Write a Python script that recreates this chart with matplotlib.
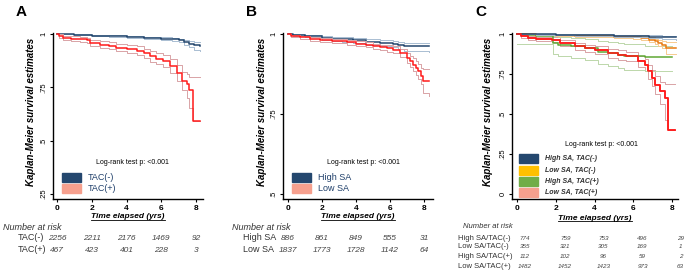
import matplotlib
matplotlib.use("Agg")
import matplotlib.pyplot as plt
import matplotlib.transforms as mtrans
from matplotlib.patches import Rectangle
from matplotlib.lines import Line2D

plt.rcParams["font.family"] = ["Liberation Sans", "DejaVu Sans"]

W, H = 685, 273

NAVY = "#24476E"
NAVY_CI = "#A9BDD2"
RED = "#FF1A1A"
RED_CI = "#D9A3A6"
ORANGE = "#E8790F"
ORANGE_CI = "#F8CB8F"
GREEN = "#5FA834"
GREEN_CI = "#BCD7AA"
SALMON = "#F6A08E"
YELLOW = "#FFC000"
LEG_GREEN = "#70AD47"

# ---- panel A: TAC(-) vs TAC(+)
a_neg_t = [0, 1, 2, 3, 4, 5, 6, 6.6, 7.0, 7.3, 7.6, 7.9, 8.2]
a_neg_s = [1.0, 0.996, 0.992, 0.989, 0.986, 0.982, 0.978, 0.975, 0.970, 0.961, 0.953, 0.946, 0.943]
a_neg_hi = [1.0, 0.998, 0.995, 0.993, 0.990, 0.987, 0.984, 0.982, 0.978, 0.971, 0.966, 0.962, 0.961]
a_neg_lo = [1.0, 0.993, 0.989, 0.985, 0.981, 0.977, 0.972, 0.968, 0.961, 0.950, 0.938, 0.926, 0.918]

a_pos_t = [0, 0.1, 0.36, 0.8, 1.3, 1.7, 1.9, 2.5, 3.0, 3.4, 4.0, 4.6, 5.0, 5.35, 5.7,
           6.1, 6.5, 6.9, 7.2, 7.47, 7.62, 7.85, 8.2]
a_pos_s = [1.0, 0.99, 0.98, 0.977, 0.974, 0.970, 0.957, 0.950, 0.944, 0.936, 0.929, 0.921,
           0.908, 0.895, 0.884, 0.872, 0.849, 0.818, 0.78, 0.764, 0.736, 0.591, 0.591]
a_pos_hi = [1.0, 0.997, 0.99, 0.988, 0.985, 0.982, 0.972, 0.966, 0.961, 0.954, 0.948, 0.941,
            0.930, 0.919, 0.909, 0.899, 0.880, 0.853, 0.823, 0.812, 0.800, 0.798, 0.798]
a_pos_lo = [1.0, 0.982, 0.969, 0.965, 0.962, 0.957, 0.942, 0.934, 0.927, 0.918, 0.910, 0.900,
            0.886, 0.870, 0.858, 0.843, 0.816, 0.78, 0.735, 0.70, 0.655, 0.591, 0.591]

a_groups = ["TAC(-)", "TAC(+)"]
a_risk = [[2256, 2211, 2176, 1469, 92], [467, 423, 401, 228, 3]]

# ---- panel B: High SA vs Low SA
b_high_t = [0, 0.3, 1.0, 1.8, 2.0, 2.6, 3.2, 3.85, 4.6, 5.4, 6.2, 6.5, 6.8, 8.3]
b_high_s = [1.0, 0.997, 0.995, 0.994, 0.987, 0.985, 0.983, 0.981, 0.976, 0.973, 0.970, 0.966, 0.962, 0.961]
b_high_hi = [1.0, 0.999, 0.998, 0.998, 0.993, 0.991, 0.989, 0.988, 0.984, 0.981, 0.979, 0.976, 0.973, 0.971]
b_high_lo = [1.0, 0.994, 0.991, 0.989, 0.981, 0.978, 0.976, 0.973, 0.967, 0.963, 0.959, 0.954, 0.948, 0.943]

b_low_t = [0, 0.2, 0.7, 1.3, 1.9, 2.6, 3.45, 4.0, 4.6, 5.0, 5.4, 5.8, 6.2, 6.6, 7.0,
           7.2, 7.37, 7.55, 7.67, 7.8, 7.96, 8.3]
b_low_s = [1.0, 0.995, 0.989, 0.985, 0.981, 0.978, 0.974, 0.970, 0.966, 0.962, 0.958, 0.955,
           0.951, 0.940, 0.925, 0.915, 0.904, 0.894, 0.884, 0.868, 0.853, 0.853]
b_low_hi = [1.0, 0.998, 0.993, 0.990, 0.986, 0.984, 0.980, 0.977, 0.974, 0.970, 0.967, 0.964,
            0.961, 0.952, 0.940, 0.932, 0.924, 0.915, 0.907, 0.895, 0.891, 0.891]
b_low_lo = [1.0, 0.992, 0.984, 0.979, 0.975, 0.971, 0.967, 0.963, 0.958, 0.953, 0.949, 0.945,
            0.940, 0.928, 0.909, 0.897, 0.884, 0.872, 0.860, 0.843, 0.815, 0.807]

b_groups = ["High SA", "Low SA"]
b_risk = [[886, 861, 849, 555, 31], [1837, 1773, 1728, 1142, 64]]

# ---- panel C: four groups
c_hn_t = [0, 1, 2, 3, 4, 5, 6, 6.8, 7.5, 8.2]
c_hn_s = [1.0, 0.998, 0.996, 0.994, 0.992, 0.990, 0.987, 0.984, 0.980, 0.979]
c_hn_hi = [1.0, 1.0, 0.999, 0.998, 0.997, 0.996, 0.994, 0.992, 0.990, 0.989]
c_hn_lo = [1.0, 0.995, 0.992, 0.989, 0.986, 0.983, 0.979, 0.975, 0.966, 0.962]

c_ln_t = [0, 1, 2, 3, 4, 5, 6, 6.4, 6.8, 7.1, 7.3, 7.5, 7.7, 8.2]
c_ln_s = [1.0, 0.996, 0.993, 0.990, 0.987, 0.984, 0.980, 0.975, 0.965, 0.954, 0.944, 0.933, 0.9125, 0.9125]
c_ln_hi = [1.0, 0.999, 0.997, 0.995, 0.993, 0.991, 0.988, 0.985, 0.978, 0.970, 0.963, 0.957, 0.948, 0.948]
c_ln_lo = [1.0, 0.992, 0.988, 0.984, 0.980, 0.976, 0.971, 0.964, 0.951, 0.937, 0.924, 0.91, 0.875, 0.875]

c_hp_t = [0, 0.5, 1.0, 1.7, 1.86, 2.1, 2.8, 3.5, 4.2, 4.7, 5.2, 5.5, 6.6, 8.0]
c_hp_s = [1.0, 0.995, 0.99, 0.99, 0.944, 0.933, 0.925, 0.9125, 0.89, 0.88, 0.871, 0.86, 0.856, 0.856]
c_hp_hi = [1.0, 1.0, 0.999, 0.999, 0.985, 0.98, 0.975, 0.967, 0.955, 0.948, 0.942, 0.935, 0.925, 0.925]
c_hp_lo = [0.94, 0.94, 0.935, 0.935, 0.875, 0.862, 0.85, 0.835, 0.81, 0.80, 0.79, 0.775, 0.767, 0.767]

c_lp_t = [0, 0.2, 0.57, 1.0, 1.8, 2.2, 3.0, 3.5, 4.0, 4.7, 5.2, 5.6, 6.26, 6.6, 6.78,
          6.95, 7.12, 7.38, 7.64, 7.78, 8.15]
c_lp_s = [1.0, 0.985, 0.975, 0.970, 0.965, 0.945, 0.923, 0.912, 0.902, 0.881, 0.870, 0.86,
          0.829, 0.808, 0.767, 0.725, 0.683, 0.642, 0.60, 0.40, 0.40]
c_lp_hi = [1.0, 0.993, 0.986, 0.982, 0.978, 0.962, 0.944, 0.934, 0.926, 0.908, 0.898, 0.889,
           0.862, 0.843, 0.809, 0.772, 0.736, 0.702, 0.69, 0.687, 0.687]
c_lp_lo = [1.0, 0.975, 0.962, 0.956, 0.950, 0.926, 0.90, 0.888, 0.876, 0.852, 0.840, 0.829,
           0.793, 0.770, 0.72, 0.672, 0.625, 0.56, 0.46, 0.40, 0.40]

c_groups = ["High SA/TAC(-)", "Low SA/TAC(-)", "High SA/TAC(+)", "Low SA/TAC(+)"]
c_legend = ["High SA, TAC(-)", "Low SA, TAC(-)", "High SA, TAC(+)", "Low SA, TAC(+)"]
c_risk = [[774, 759, 753, 496, 29], [355, 321, 305, 169, 1],
          [112, 102, 96, 59, 2], [1482, 1452, 1423, 973, 63]]

x_ticks = [0, 2, 4, 6, 8]


def fx(x):
    return x / W


def fy(y):
    return 1 - y / H


def make_axes(fig, left, right, top, bottom):
    return fig.add_axes([fx(left), fy(bottom), (right - left) / W, (bottom - top) / H])


def km(ax, t, s, lo, hi, color, ci_color, lw=1.1):
    ax.step(t, hi, where="post", color=ci_color, lw=0.7)
    ax.step(t, lo, where="post", color=ci_color, lw=0.7)
    return ax.step(t, s, where="post", color=color, lw=lw)


def style(ax, xlim, ylim, yticks, ylabels):
    ax.set_xlim(*xlim)
    ax.set_ylim(*ylim)
    for side in ("top", "right"):
        ax.spines[side].set_visible(False)
    for side in ("left", "bottom"):
        ax.spines[side].set_linewidth(1.0)
    ax.set_xticks(x_ticks)
    ax.set_xticklabels([str(v) for v in x_ticks], fontsize=6, fontweight="bold")
    ax.set_yticks(yticks)
    ax.set_yticklabels(ylabels, fontsize=5.5, rotation=90, va="center")
    ax.tick_params(axis="both", length=2.5, width=0.8, pad=1.5)


xlabels = []


def xlabel(fig, ax, y):
    pos = ax.get_position()
    t = fig.text((pos.x0 + pos.x1) / 2, fy(y), "Time elapsed (yrs)", fontsize=6,
                 fontweight="bold", style="italic", ha="center", va="center")
    xlabels.append(t)


def risk_table(fig, ax, header_xy, label_x, rows_y, groups, counts, col_x, fs, lab_fs):
    fig.text(fx(header_xy[0]), fy(header_xy[1]), "Number at risk", fontsize=lab_fs,
             style="italic", va="center", color="#333333")
    tr = mtrans.blended_transform_factory(ax.transData, fig.transFigure)
    for g, row, y in zip(groups, counts, rows_y):
        fig.text(fx(label_x), fy(y), g, fontsize=lab_fs, va="center", color="#333333")
        for x, n in zip(col_x, row):
            fig.text(x, fy(y), str(n), transform=tr, fontsize=fs, style="italic",
                     ha="center", va="center", color="#444444")


def legend(fig, x0, rows_y, labels, colors, text_kw):
    for lab, c, y in zip(labels, colors, rows_y):
        fig.patches.append(Rectangle((fx(x0), fy(y + 4.5)), 19 / W, 9 / H,
                                     transform=fig.transFigure, color=c, figure=fig))
        fig.text(fx(x0 + 26), fy(y), lab, va="center", **text_kw)


fig = plt.figure(figsize=(W / 100, H / 100), dpi=100)

ylab_kw = dict(rotation=90, fontsize=7, fontweight="bold", style="italic",
               ha="center", va="center")

# Panel A
axA = make_axes(fig, 53, 203, 33, 199)
km(axA, a_neg_t, a_neg_s, a_neg_lo, a_neg_hi, NAVY, NAVY_CI)
km(axA, a_pos_t, a_pos_s, a_pos_lo, a_pos_hi, RED, RED_CI)
style(axA, (-0.23, 8.4), (0.2265, 1.004), [0.25, 0.5, 0.75, 1], [".25", ".5", ".75", "1"])
xlabel(fig, axA, 217)
fig.text(fx(16), fy(12), "A", fontsize=11, fontweight="bold", va="center")
fig.text(fx(31), fy(112), "Kaplan-Meier survival estimates", **ylab_kw)
fig.text(fx(132), fy(163), "Log-rank test p: <0.001", fontsize=5, ha="center", va="center")
legend(fig, 62, [177.5, 188.5], a_groups, [NAVY, SALMON],
       dict(fontsize=6.5, color="#1F3F6A"))
risk_table(fig, axA, (3, 228), 18, [238, 250], a_groups, a_risk, x_ticks, 6, 6.5)

# Panel B
axB = make_axes(fig, 283, 433, 33, 199)
km(axB, b_high_t, b_high_s, b_high_lo, b_high_hi, NAVY, NAVY_CI)
km(axB, b_low_t, b_low_s, b_low_lo, b_low_hi, RED, RED_CI)
style(axB, (-0.29, 8.53), (0.484, 1.003), [0.5, 0.75, 1], [".5", ".75", "1"])
xlabel(fig, axB, 217)
fig.text(fx(246), fy(12), "B", fontsize=11, fontweight="bold", va="center")
fig.text(fx(262), fy(112), "Kaplan-Meier survival estimates", **ylab_kw)
fig.text(fx(363), fy(163), "Log-rank test p: <0.001", fontsize=5, ha="center", va="center")
legend(fig, 292, [177.5, 188.5], b_groups, [NAVY, SALMON],
       dict(fontsize=6.5, color="#1F3F6A"))
risk_table(fig, axB, (232, 228), 243, [238, 250], b_groups, b_risk, x_ticks, 6, 6.5)

# Panel C
axC = make_axes(fig, 512, 678, 33, 199)
km(axC, c_lp_t, c_lp_s, c_lp_lo, c_lp_hi, RED, RED_CI)
km(axC, c_hp_t, c_hp_s, c_hp_lo, c_hp_hi, GREEN, GREEN_CI)
km(axC, c_ln_t, c_ln_s, c_ln_lo, c_ln_hi, ORANGE, ORANGE_CI)
km(axC, c_hn_t, c_hn_s, c_hn_lo, c_hn_hi, NAVY, NAVY_CI)
axC.step(c_lp_t, c_lp_s, where="post", color=RED, lw=1.1)
style(axC, (-0.26, 8.31), (-0.031, 1.006), [0, 0.25, 0.5, 0.75, 1], ["0", ".25", ".5", ".75", "1"])
xlabel(fig, axC, 218)
fig.text(fx(475), fy(12), "C", fontsize=11, fontweight="bold", va="center")
fig.text(fx(488), fy(112), "Kaplan-Meier survival estimates", **ylab_kw)
fig.text(fx(601), fy(145), "Log-rank test p: <0.001", fontsize=5, ha="center", va="center")
legend(fig, 519, [158.5, 170, 181.5, 192], c_legend, [NAVY, YELLOW, LEG_GREEN, SALMON],
       dict(fontsize=5, color="#333333", style="italic", fontweight="bold"))
risk_table(fig, axC, (463, 227), 458, [238, 247, 256, 266], c_groups, c_risk,
           [0.41, 2.49, 4.46, 6.48, 8.44], 4.5, 5.5)

# underline the x axis titles
fig.canvas.draw()
renderer = fig.canvas.get_renderer()
inv = fig.transFigure.inverted()
for t in xlabels:
    bb = t.get_window_extent(renderer).transformed(inv)
    fig.lines.append(Line2D([bb.x0, bb.x1], [bb.y0 + 0.002, bb.y0 + 0.002], lw=0.6,
                            color="black", transform=fig.transFigure, figure=fig))

fig.savefig("out.png", dpi=100)
